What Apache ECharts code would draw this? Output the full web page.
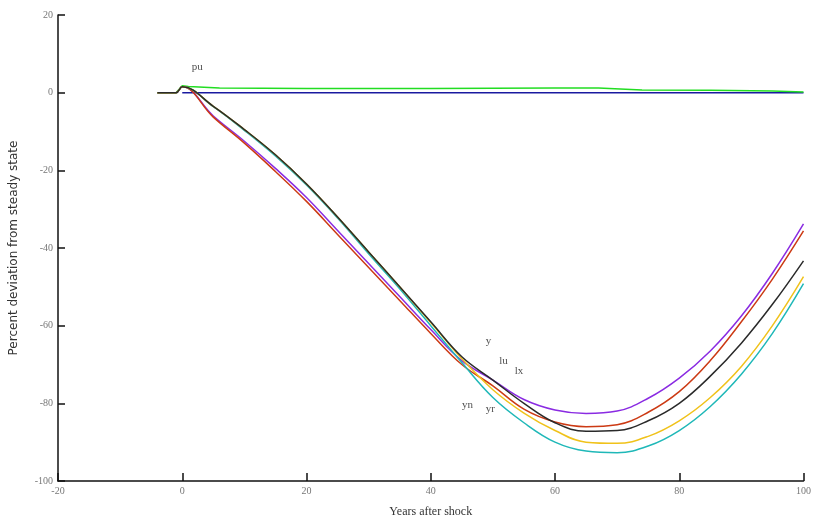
<!DOCTYPE html>
<html>
<head>
<meta charset="utf-8">
<script src="https://cdn.jsdelivr.net/npm/echarts@6/dist/echarts.min.js"></script>
<style>html,body{margin:0;padding:0;background:#fff;}#c{width:814px;height:523px;}</style>
</head>
<body>
<div id="c"></div>
<script>
// years after shock
const years = [-4, -1, 0, 5, 10, 15, 20, 25, 30, 35, 40, 45, 50, 55, 60, 65, 70, 75, 80, 85, 90, 95, 100];
// percent deviation from steady state
const blueVals   = [0, 0, 0, 0, 0, 0, 0, 0, 0, 0, 0, 0, 0, 0, 0, 0, 0, 0, 0, 0, 0, 0, 0];
const greenYears = [-4, -1, 0, 1, 6, 20, 40, 60, 67, 74, 85, 95, 100];
const greenVals  = [0, 0, 1.8, 1.6, 1.2, 1.1, 1.1, 1.2, 1.2, 0.7, 0.6, 0.4, 0.2];
const purpleVals = [0, 0, 1.5, -6, -12.5, -19.5, -27, -35.5, -44, -52.5, -61, -69, -74, -79, -81.7, -82.6, -82, -78.7, -73.5, -66.5, -57.5, -46.5, -33.8];
const redVals    = [0, 0, 1.5, -6.3, -13, -20.3, -28, -36.5, -45, -53.5, -62, -70, -75.5, -81.5, -84.8, -86, -85.5, -82.3, -77, -69, -59, -48, -35.6];
const blackVals  = [0, 0, 1.5, -3.5, -9.5, -16, -23.5, -32, -41, -50, -59, -68, -74, -80, -85, -87.2, -87, -84.5, -80, -73, -64.5, -54.5, -43.3];
const yellowVals = [0, 0, 1.5, -3.5, -9.5, -16, -23.5, -32, -41, -50, -59.2, -68.5, -76.5, -82.5, -87, -90, -90.3, -88.5, -84.5, -78.5, -70.5, -60, -47.4];
const cyanVals   = [0, 0, 1.5, -3.6, -9.7, -16.3, -23.8, -32.3, -41.5, -50.5, -60, -69.5, -78.5, -85, -90, -92.3, -92.7, -91, -87, -80.8, -72.5, -62, -49.2];
// text annotations
const noteText = ['pu', 'y', 'lu', 'lx', 'yn', 'yr'];
const noteX    = [2.4, 49.3, 51.7, 54.2, 45.9, 49.6];
const noteY    = [6.7, -64, -69, -71.8, -80.5, -81.5];
// axis ticks
const xTicks = [-20, 0, 20, 40, 60, 80, 100];
const yTicks = [-100, -80, -60, -40, -20, 0, 20];

const zip = (xs, ys) => xs.map((x, i) => [x, ys[i]]);
const line = (name, xs, ys, color, smooth) => ({
  name, type: 'line', data: zip(xs, ys), smooth: smooth, showSymbol: false,
  lineStyle: { color: color, width: 1.5 }, itemStyle: { color: color }, animation: false
});

const chart = echarts.init(document.getElementById('c'));
chart.setOption({
  backgroundColor: '#fff',
  animation: false,
  grid: { left: 57, right: 7, top: 15, bottom: 38 },
  xAxis: {
    type: 'value', min: xTicks[0], max: xTicks[xTicks.length - 1], interval: 20,
    name: 'Years after shock', nameLocation: 'middle', nameGap: 25,
    nameTextStyle: { color: '#333', fontSize: 12, fontFamily: 'Liberation Serif' },
    axisLine: { onZero: false, lineStyle: { color: '#111', width: 1.5 } },
    axisTick: { inside: true, length: 8, lineStyle: { color: '#111', width: 1.5 } },
    axisLabel: { color: '#777', fontSize: 10, fontFamily: 'Liberation Serif', margin: 5 },
    splitLine: { show: false }
  },
  yAxis: {
    type: 'value', min: yTicks[0], max: yTicks[yTicks.length - 1], interval: 20,
    name: 'Percent deviation from steady state', nameLocation: 'middle', nameGap: 38,
    nameTextStyle: { color: '#333', fontSize: 12, fontFamily: 'DejaVu Sans' },
    axisLine: { onZero: false, lineStyle: { color: '#111', width: 1.5 } },
    axisTick: { inside: true, length: 7, lineStyle: { color: '#111', width: 1.5 } },
    axisLabel: { color: '#777', fontSize: 10, fontFamily: 'Liberation Serif', margin: 5 },
    splitLine: { show: false }
  },
  series: [
    line('blue', years.slice(2), blueVals.slice(2), '#1a1aa0', false),
    line('green', greenYears, greenVals, '#22dd22', false),
    line('purple', years, purpleVals, '#8a2be2', 0.4),
    line('red', years, redVals, '#cc3a14', 0.4),
    line('cyan', years, cyanVals, '#1fb8b8', 0.4),
    line('yellow', years, yellowVals, '#f0c21a', 0.4),
    line('black', years, blackVals, '#2a2a2a', 0.4),
    {
      type: 'scatter', data: zip(noteX, noteY), symbolSize: 0, animation: false, silent: true,
      label: {
        show: true, position: 'inside', color: '#222', fontSize: 11, fontFamily: 'Liberation Serif',
        formatter: p => noteText[p.dataIndex]
      }
    }
  ]
});
</script>
</body>
</html>
